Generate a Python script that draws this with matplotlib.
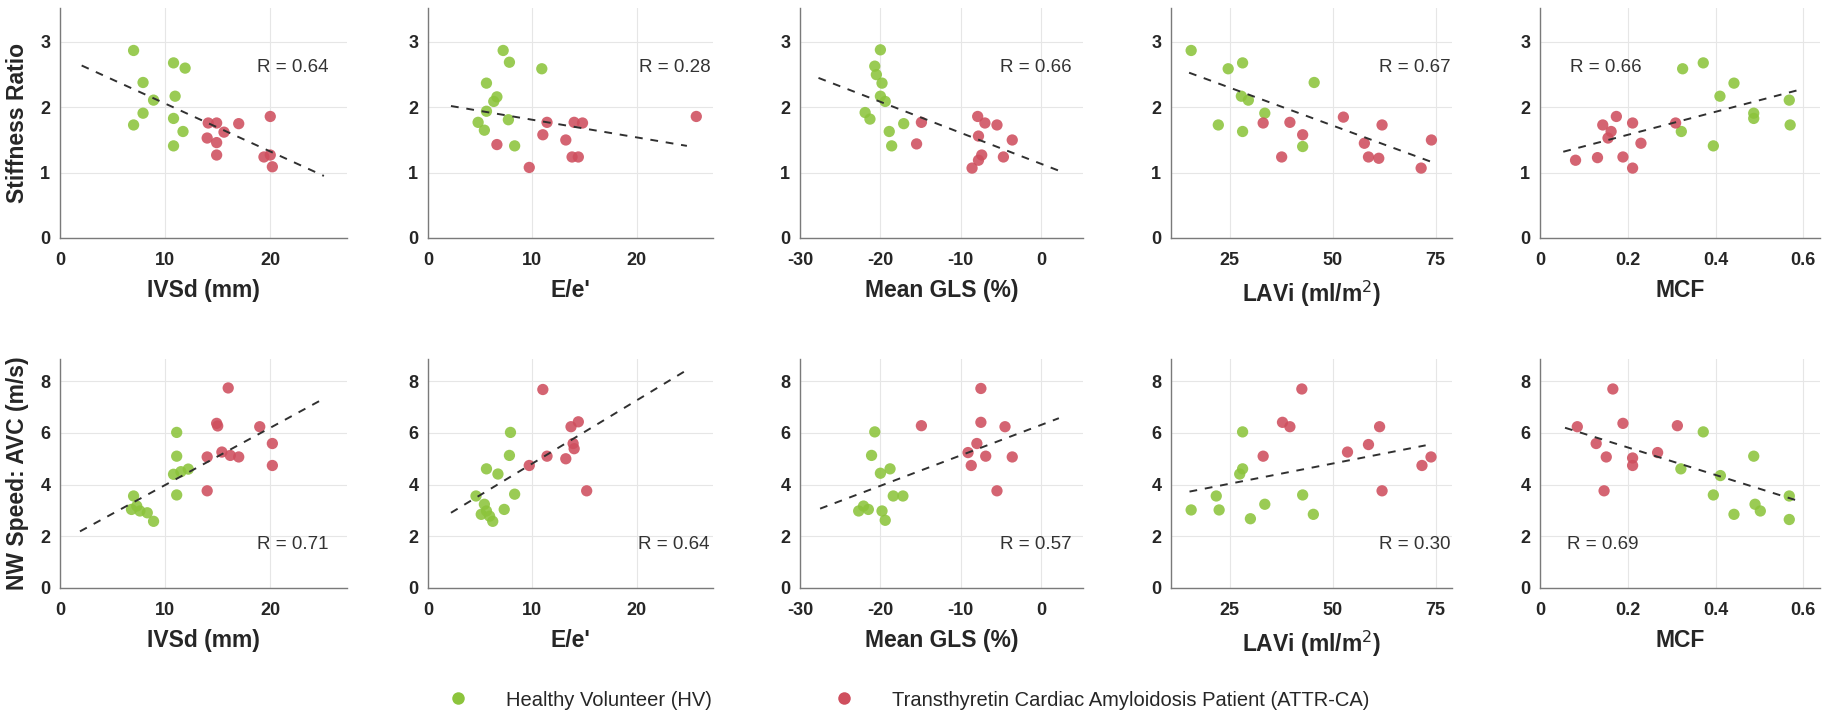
import matplotlib
matplotlib.use('Agg')
import matplotlib.pyplot as plt
from matplotlib.lines import Line2D

plt.rcParams['font.family'] = ['Liberation Sans', 'DejaVu Sans']

# ---------------- data ----------------
# Top row: Stiffness Ratio
p1_hv_x = [7.0, 7.9, 8.9, 7.9, 7.0, 10.8, 11.9, 10.95, 10.8, 11.7, 10.8]
p1_hv_y = [2.87, 2.38, 2.11, 1.91, 1.73, 2.68, 2.60, 2.17, 1.83, 1.63, 1.41]
p1_at_x = [14.1, 14.9, 17.0, 14.0, 14.9, 14.9, 20.0, 19.4, 20.0, 20.2, 15.6]
p1_at_y = [1.76, 1.76, 1.75, 1.53, 1.46, 1.27, 1.86, 1.24, 1.27, 1.09, 1.62]
p1_fit_x = [2.06, 25.1]
p1_fit_y = [2.64, 0.95]

p2_hv_x = [7.2, 7.8, 10.9, 5.6, 6.6, 6.3, 5.6, 4.8, 5.4, 7.7, 8.3]
p2_hv_y = [2.87, 2.69, 2.59, 2.37, 2.16, 2.09, 1.94, 1.77, 1.65, 1.81, 1.41]
p2_at_x = [6.6, 9.7, 11.0, 11.4, 13.2, 14.0, 14.8, 13.8, 14.4, 25.7]
p2_at_y = [1.43, 1.08, 1.58, 1.77, 1.50, 1.77, 1.76, 1.24, 1.24, 1.86]
p2_fit_x = [2.2, 24.8]
p2_fit_y = [2.02, 1.41]

p3_hv_x = [-20.0, -20.7, -20.5, -19.8, -20.0, -19.4, -21.9, -21.3, -18.9, -18.6, -17.1]
p3_hv_y = [2.88, 2.63, 2.50, 2.37, 2.17, 2.09, 1.92, 1.82, 1.63, 1.41, 1.75]
p3_at_x = [-14.9, -15.5, -7.9, -7.0, -5.5, -7.8, -3.6, -7.4, -4.7, -8.6, -7.8]
p3_at_y = [1.77, 1.44, 1.86, 1.76, 1.73, 1.56, 1.50, 1.27, 1.24, 1.07, 1.19]
p3_fit_x = [-27.7, 2.2]
p3_fit_y = [2.45, 1.03]

p4_hv_x = [15.6, 24.6, 28.1, 45.5, 27.8, 29.5, 33.5, 22.2, 28.1, 42.7]
p4_hv_y = [2.87, 2.59, 2.68, 2.38, 2.17, 2.11, 1.91, 1.73, 1.63, 1.40]
p4_at_x = [33.1, 39.6, 42.7, 37.6, 52.6, 62.0, 57.7, 58.7, 61.2, 74.0, 71.5]
p4_at_y = [1.76, 1.77, 1.58, 1.24, 1.85, 1.73, 1.45, 1.24, 1.22, 1.50, 1.07]
p4_fit_x = [15.1, 74.2]
p4_fit_y = [2.53, 1.16]

p5_hv_x = [0.325, 0.372, 0.442, 0.410, 0.322, 0.395, 0.487, 0.487, 0.568, 0.570]
p5_hv_y = [2.59, 2.68, 2.37, 2.17, 1.63, 1.41, 1.91, 1.83, 2.11, 1.73]
p5_at_x = [0.081, 0.131, 0.143, 0.174, 0.162, 0.155, 0.189, 0.211, 0.211, 0.230, 0.309]
p5_at_y = [1.19, 1.23, 1.73, 1.86, 1.63, 1.53, 1.24, 1.07, 1.76, 1.45, 1.76]
p5_fit_x = [0.053, 0.592]
p5_fit_y = [1.32, 2.27]

# Bottom row: NW Speed AVC
p6_hv_x = [11.1, 11.1, 11.1, 10.8, 11.5, 12.2, 7.0, 7.3, 7.6, 8.3, 8.9, 6.8]
p6_hv_y = [6.02, 5.10, 3.60, 4.40, 4.50, 4.60, 3.56, 3.17, 2.98, 2.91, 2.58, 3.04]
p6_at_x = [16.0, 14.9, 15.0, 14.0, 15.4, 16.2, 17.0, 19.0, 20.2, 20.2, 14.0]
p6_at_y = [7.74, 6.37, 6.27, 5.07, 5.26, 5.13, 5.07, 6.24, 5.59, 4.74, 3.76]
p6_fit_x = [1.9, 25.2]
p6_fit_y = [2.19, 7.35]

p7_hv_x = [7.9, 7.8, 5.6, 6.7, 8.3, 4.6, 5.4, 5.6, 5.1, 6.2, 7.3, 5.9]
p7_hv_y = [6.02, 5.13, 4.61, 4.41, 3.63, 3.56, 3.24, 2.98, 2.85, 2.58, 3.04, 2.78]
p7_at_x = [11.0, 13.7, 14.4, 13.9, 14.0, 13.2, 11.4, 9.7, 15.2]
p7_at_y = [7.68, 6.24, 6.43, 5.59, 5.39, 5.00, 5.10, 4.74, 3.76]
p7_fit_x = [2.2, 24.9]
p7_fit_y = [2.91, 8.46]

p8_hv_x = [-20.7, -21.1, -18.8, -20.0, -18.4, -17.2, -22.1, -22.7, -21.5, -19.8, -19.4]
p8_hv_y = [6.04, 5.13, 4.61, 4.44, 3.56, 3.56, 3.17, 2.98, 3.04, 2.98, 2.62]
p8_at_x = [-14.9, -7.5, -7.5, -4.5, -3.6, -6.9, -8.0, -9.1, -8.7, -5.5]
p8_at_y = [6.28, 7.72, 6.41, 6.24, 5.07, 5.10, 5.59, 5.24, 4.74, 3.76]
p8_fit_x = [-27.5, 2.2]
p8_fit_y = [3.07, 6.57]

p9_hv_x = [28.1, 28.1, 27.4, 21.7, 15.6, 22.4, 33.5, 30.0, 42.7, 45.3]
p9_hv_y = [6.04, 4.61, 4.41, 3.56, 3.02, 3.02, 3.24, 2.68, 3.60, 2.85]
p9_at_x = [42.5, 37.8, 39.6, 33.1, 53.6, 58.7, 61.4, 62.0, 71.7, 73.9]
p9_at_y = [7.70, 6.41, 6.24, 5.10, 5.26, 5.55, 6.24, 3.76, 4.74, 5.07]
p9_fit_x = [15.2, 72.6]
p9_fit_y = [3.73, 5.52]

p10_hv_x = [0.372, 0.321, 0.411, 0.395, 0.487, 0.442, 0.490, 0.502, 0.568, 0.568]
p10_hv_y = [6.04, 4.61, 4.35, 3.60, 5.10, 2.85, 3.24, 2.98, 3.56, 2.65]
p10_at_x = [0.085, 0.166, 0.189, 0.128, 0.151, 0.146, 0.211, 0.211, 0.268, 0.313]
p10_at_y = [6.24, 7.70, 6.37, 5.59, 5.07, 3.76, 5.03, 4.74, 5.24, 6.28]
p10_fit_x = [0.057, 0.596]
p10_fit_y = [6.20, 3.33]

x_labels = ['IVSd (mm)', "E/e'", 'Mean GLS (%)', 'LAVi (ml/m$^2$)', 'MCF']
y_labels = ['Stiffness Ratio', 'NW Speed: AVC (m/s)']
r_top = ['R = 0.64', 'R = 0.28', 'R = 0.66', 'R = 0.67', 'R = 0.66']
r_bottom = ['R = 0.71', 'R = 0.64', 'R = 0.57', 'R = 0.30', 'R = 0.69']
x_ticks = [[0, 10, 20], [0, 10, 20], [-30, -20, -10, 0], [25, 50, 75], [0, 0.2, 0.4, 0.6]]
x_ticklabels = [['0', '10', '20'], ['0', '10', '20'], ['-30', '-20', '-10', '0'],
                ['25', '50', '75'], ['0', '0.2', '0.4', '0.6']]
y_ticks_top = [0, 1, 2, 3]
y_ticks_bottom = [0, 2, 4, 6, 8]
legend_labels = ['Healthy Volunteer (HV)', 'Transthyretin Cardiac Amyloidosis Patient (ATTR-CA)']

# ---------------- style / layout ----------------
HV_COLOR = '#8cc43c'
AT_COLOR = '#cf4f5e'
W, H = 1836, 720
lefts = [60, 428, 800, 1171, 1540]
rights = [347, 713, 1083, 1452, 1820]
rows = [(8, 238), (359, 588)]
xlims = [(0, 27.3), (0, 27.3), (-30, 5.2), (10.7, 79), (0, 0.638)]
ylims = [(0, 3.52), (0, 8.86)]
r_xfrac_top = [0.685, 0.74, 0.707, 0.74, 0.107]
r_xfrac_bot = [0.685, 0.738, 0.707, 0.741, 0.095]
r_yfrac = [0.74, 0.188]

top_panels = [(p1_hv_x, p1_hv_y, p1_at_x, p1_at_y, p1_fit_x, p1_fit_y),
              (p2_hv_x, p2_hv_y, p2_at_x, p2_at_y, p2_fit_x, p2_fit_y),
              (p3_hv_x, p3_hv_y, p3_at_x, p3_at_y, p3_fit_x, p3_fit_y),
              (p4_hv_x, p4_hv_y, p4_at_x, p4_at_y, p4_fit_x, p4_fit_y),
              (p5_hv_x, p5_hv_y, p5_at_x, p5_at_y, p5_fit_x, p5_fit_y)]
bot_panels = [(p6_hv_x, p6_hv_y, p6_at_x, p6_at_y, p6_fit_x, p6_fit_y),
              (p7_hv_x, p7_hv_y, p7_at_x, p7_at_y, p7_fit_x, p7_fit_y),
              (p8_hv_x, p8_hv_y, p8_at_x, p8_at_y, p8_fit_x, p8_fit_y),
              (p9_hv_x, p9_hv_y, p9_at_x, p9_at_y, p9_fit_x, p9_fit_y),
              (p10_hv_x, p10_hv_y, p10_at_x, p10_at_y, p10_fit_x, p10_fit_y)]

fig = plt.figure(figsize=(W / 100, H / 100), dpi=100)
fig.patch.set_facecolor('white')

TEXT_C = '#262626'
for r, (panels, rtexts, rxf) in enumerate([(top_panels, r_top, r_xfrac_top),
                                            (bot_panels, r_bottom, r_xfrac_bot)]):
    top_px, bot_px = rows[r]
    for c in range(5):
        hx, hy, ax_, ay, fx, fy = panels[c]
        ax = fig.add_axes([lefts[c] / W, 1 - bot_px / H,
                           (rights[c] - lefts[c]) / W, (bot_px - top_px) / H])
        ax.set_axisbelow(True)
        ax.grid(True, color='#e6e6e6', linewidth=0.8)
        ax.plot(fx, fy, linestyle=(0, (4, 4)), color='#303030', linewidth=1.4, zorder=3)
        ax.scatter(hx, hy, s=66, color=HV_COLOR, alpha=0.88, edgecolors='none', zorder=2)
        ax.scatter(ax_, ay, s=66, color=AT_COLOR, alpha=0.88, edgecolors='none', zorder=2)
        ax.set_xlim(*xlims[c])
        ax.set_ylim(*ylims[r])
        ax.set_xticks(x_ticks[c])
        ax.set_xticklabels(x_ticklabels[c])
        ax.set_yticks(y_ticks_top if r == 0 else y_ticks_bottom)
        for s in ['top', 'right']:
            ax.spines[s].set_visible(False)
        for s in ['left', 'bottom']:
            ax.spines[s].set_color('#7a7a7a')
            ax.spines[s].set_linewidth(1.0)
        ax.tick_params(axis='x', length=0, pad=10, labelsize=13, labelcolor=TEXT_C)
        ax.tick_params(axis='y', length=0, pad=7, labelsize=13, labelcolor=TEXT_C)
        for lab in ax.get_xticklabels() + ax.get_yticklabels():
            lab.set_fontweight('bold')
        ax.set_xlabel(x_labels[c], fontsize=16.5, fontweight='bold', color=TEXT_C, labelpad=7)
        if c == 0:
            ax.set_ylabel(y_labels[r], fontsize=16.5, fontweight='bold', color=TEXT_C, labelpad=8)
        ax.text(rxf[c], r_yfrac[r], rtexts[c], transform=ax.transAxes, fontsize=13.5,
                color='#333333', ha='left', va='center')

# Legend: two entries placed at the reference positions
legend_x_px = [448, 834]
for lbl, col, xpx in zip(legend_labels, [HV_COLOR, AT_COLOR], legend_x_px):
    h = Line2D([], [], marker='o', linestyle='none', markersize=9,
               markerfacecolor=col, markeredgecolor='none')
    fig.legend([h], [lbl], loc='center left', bbox_to_anchor=(xpx / W, 1 - 700 / H),
               frameon=False, fontsize=14.5, handlelength=1.0, handletextpad=1.9,
               borderpad=0, borderaxespad=0, labelcolor=TEXT_C)

fig.savefig('out.png', dpi=100, facecolor='white')
